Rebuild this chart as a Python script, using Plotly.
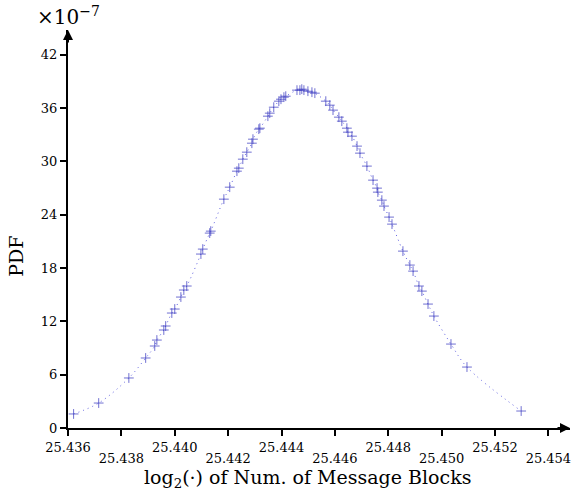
import plotly.graph_objects as go

# Sample points (x = log2 of number of message blocks, y = PDF in units of 1e-7)
x_vals = [25.43621, 25.43715, 25.43828, 25.43891, 25.43925, 25.43933, 25.43959, 25.43966,
          25.43989, 25.44000, 25.44023, 25.44034, 25.44045, 25.44098, 25.44105, 25.44131,
          25.44135, 25.44184, 25.44206, 25.44233, 25.44240, 25.44255, 25.44270, 25.44289,
          25.44293, 25.44315, 25.44319, 25.44349, 25.44356, 25.44371, 25.44390, 25.44398,
          25.44409, 25.44416, 25.44458, 25.44469, 25.44476, 25.44484, 25.44499, 25.44514,
          25.44525, 25.44566, 25.44581, 25.44593, 25.44615, 25.44626, 25.44645, 25.44649,
          25.44664, 25.44683, 25.44694, 25.44720, 25.44743, 25.44758, 25.44761, 25.44776,
          25.44784, 25.44803, 25.44814, 25.44855, 25.44881, 25.44893, 25.44915, 25.44926,
          25.44949, 25.44971, 25.45035, 25.45095, 25.45298]
y_vals = [1.58, 2.81, 5.63, 7.88, 9.23, 9.90, 11.03, 11.48,
          12.94, 13.39, 14.74, 15.53, 15.98, 19.58, 20.14, 21.94,
          22.16, 25.76, 27.11, 28.91, 29.25, 30.26, 31.05, 32.06,
          32.51, 33.64, 33.75, 35.10, 35.44, 36.11, 36.79, 37.01,
          37.24, 37.35, 38.03, 38.03, 38.14, 38.03, 37.91, 37.80,
          37.69, 36.79, 36.34, 35.78, 34.99, 34.54, 33.75, 33.30,
          32.85, 31.73, 30.94, 29.48, 27.90, 27.00, 26.55, 25.65,
          24.98, 23.74, 22.95, 19.91, 18.34, 17.66, 15.98, 15.41,
          13.95, 12.60, 9.45, 6.86, 1.91]

x_ticks_upper = [25.436, 25.440, 25.444, 25.448, 25.452]
x_ticks_lower = [25.438, 25.442, 25.446, 25.450, 25.454]
y_ticks = [0, 6, 12, 18, 24, 30, 36, 42]

FONT = "DejaVu Serif"

fig = go.Figure()
fig.add_trace(go.Scatter(
    x=x_vals, y=y_vals, mode="lines",
    line=dict(color="rgb(95,95,225)", width=1, dash="1px,4px", shape="spline", smoothing=1.0),
    hoverinfo="skip", showlegend=False))
fig.add_trace(go.Scatter(
    x=x_vals, y=y_vals, mode="markers",
    marker=dict(symbol="cross-thin", size=7, line=dict(color="rgba(65,65,195,0.75)", width=1)),
    showlegend=False))
# invisible trace on the second x axis (lower row of tick labels)
fig.add_trace(go.Scatter(x=[x_ticks_lower[0]], y=[0], xaxis="x2", mode="markers",
                         marker=dict(opacity=0), hoverinfo="skip", showlegend=False))

all_ticks = sorted(x_ticks_upper + x_ticks_lower)
upper_labels = [f"{v:.3f}" if v in x_ticks_upper else "" for v in all_ticks]

xr = [25.436, 25.45481]
fig.update_layout(
    width=572, height=494,
    margin=dict(l=68, r=2, t=30, b=66),
    plot_bgcolor="white", paper_bgcolor="white",
    font=dict(family=FONT, color="black"),
    xaxis=dict(range=xr, tickvals=all_ticks, ticktext=upper_labels, automargin=False,
               showline=True, linecolor="black", linewidth=2,
               ticks="outside", ticklen=6, tickwidth=2, tickcolor="black",
               showgrid=False, zeroline=False, tickfont=dict(size=13, family=FONT)),
    xaxis2=dict(range=xr, overlaying="x", side="bottom", tickvals=x_ticks_lower,
                ticktext=[f"{v:.3f}" for v in x_ticks_lower], automargin=False,
                showline=False, ticks="", showgrid=False, zeroline=False,
                tickfont=dict(size=13, family=FONT), ticklabelstandoff=21),
    yaxis=dict(range=[0, 44.8], tickvals=y_ticks, ticktext=[str(v) for v in y_ticks],
               automargin=False,
               showline=True, linecolor="black", linewidth=2,
               ticks="outside", ticklen=6, tickwidth=2, tickcolor="black",
               showgrid=False, zeroline=False, tickfont=dict(size=13, family=FONT)),
)

# axis titles
fig.add_annotation(xref="paper", yref="paper", x=0.478, y=0, yshift=-50, xanchor="center",
                   yanchor="middle", showarrow=False,
                   text="log<sub>2</sub>(·) of Num. of Message Blocks",
                   font=dict(size=19, family=FONT))
fig.add_annotation(xref="paper", yref="paper", x=0, y=0.43, xshift=-52, xanchor="center",
                   yanchor="middle", showarrow=False, textangle=-90, text="PDF",
                   font=dict(size=19, family=FONT))

# axis arrows
fig.add_annotation(xref="paper", yref="paper", x=1.0, y=0, ax=-14, ay=0,
                   text="", showarrow=True,
                   arrowhead=2, arrowsize=1, arrowwidth=2, arrowcolor="black")
fig.add_annotation(xref="paper", yref="paper", x=0, y=1.0, ax=0, ay=14,
                   text="", showarrow=True,
                   arrowhead=2, arrowsize=1, arrowwidth=2, arrowcolor="black")
# exponent label
fig.add_annotation(xref="paper", yref="paper", x=0, y=1.0, xanchor="center", yanchor="bottom",
                   xshift=0, yshift=-1, text="×10<sup>−7</sup>", showarrow=False,
                   font=dict(size=20, family=FONT))

# remove the default page margin so the 572x494 figure fills the window exactly
fig.write_html("out.html", config={"displayModeBar": False},
               post_script="document.body.style.margin='0';document.body.style.overflow='hidden';")
